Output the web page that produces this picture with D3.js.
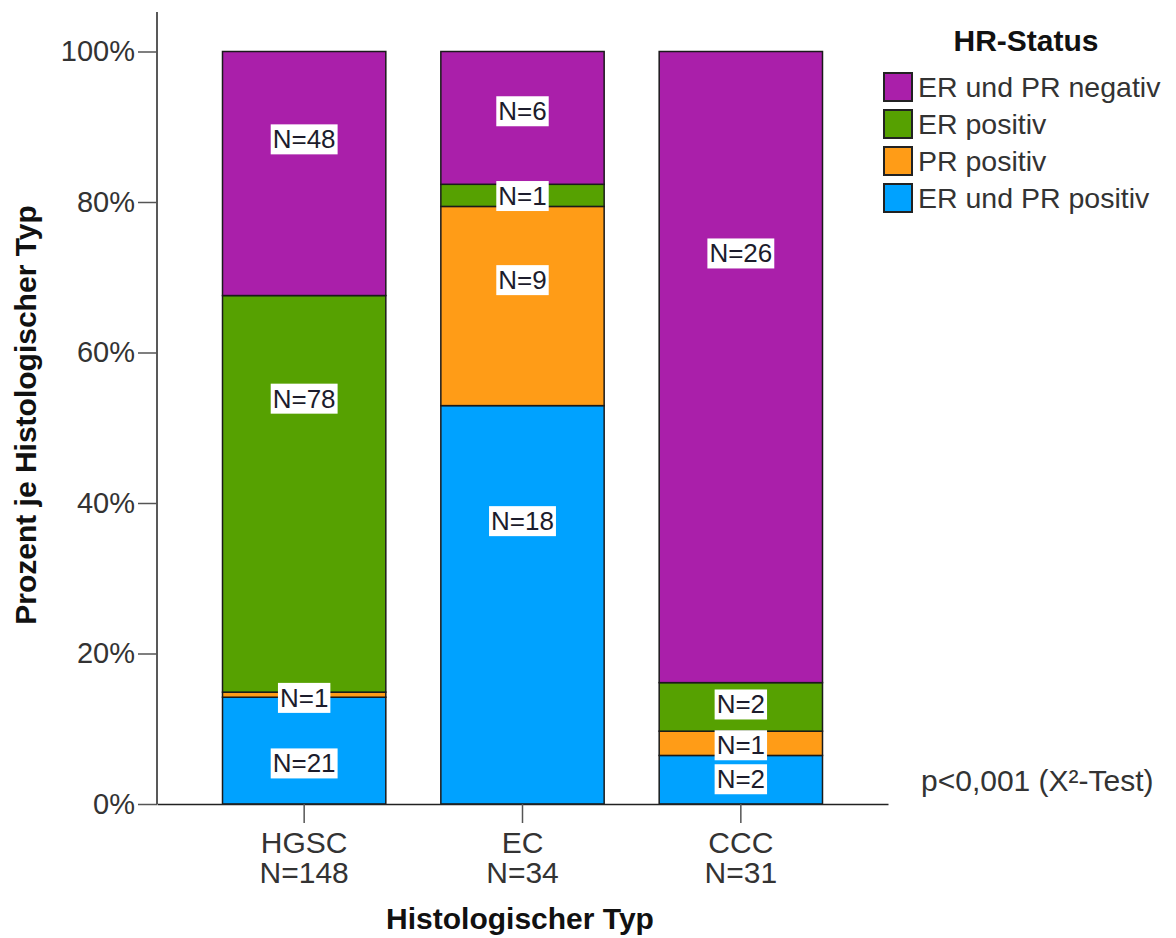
<!DOCTYPE html>
<html>
<head>
<meta charset="utf-8">
<script src="https://cdn.jsdelivr.net/npm/d3@7"></script>
<style>
  body { margin: 0; background: #fff; }
  svg text { font-family: "Liberation Sans", Arial, sans-serif; }
</style>
</head>
<body>
<div id="chart"></div>
<script>
// data (counts per histological type)
var categories = ["HGSC", "EC", "CCC"];
var seriesNames = ["ER und PR positiv", "PR positiv", "ER positiv", "ER und PR negativ"]; // stack order, bottom first
var erPrPositiv = [21, 18, 2];
var prPositiv   = [1, 9, 1];
var erPositiv   = [78, 1, 2];
var erPrNegativ = [48, 6, 26];
var yTicks = [0, 0.2, 0.4, 0.6, 0.8, 1.0];

// layout only: where the N label sits inside its segment (0 = bottom, 1 = top)
var labelFrac = [
  [0.38, -0.13, 0.74, 0.64],
  [0.71, 0.63, 0.47, 0.55],
  [0.51, 0.42, 0.55, 0.68]
];
var colors = ["#00a2ff", "#ff9c17", "#56a101", "#aa1faa"];

var counts = [erPrPositiv, prPositiv, erPositiv, erPrNegativ];
var totals = categories.map(function(c, i) { return d3.sum(counts, function(s) { return s[i]; }); });

var svg = d3.select("#chart").append("svg")
    .attr("width", 1176)
    .attr("height", 938);

var x = d3.scaleBand().domain(categories).range([157, 888]).paddingInner(0.252).paddingOuter(0.30);
var y = d3.scaleLinear().domain([0, 1]).range([804, 51.5]);

// stacked segments
var rows = categories.map(function(c, i) {
  var r = {cat: c};
  seriesNames.forEach(function(s, k) { r[s] = counts[k][i] / totals[i]; });
  return r;
});
var stack = d3.stack().keys(seriesNames)(rows);

var g = svg.append("g");
stack.forEach(function(layer, k) {
  g.selectAll(".seg" + k)
      .data(layer)
    .enter().append("rect")
      .attr("x", function(d) { return x(d.data.cat); })
      .attr("width", x.bandwidth())
      .attr("y", function(d) { return y(d[1]); })
      .attr("height", function(d) { return y(d[0]) - y(d[1]); })
      .attr("fill", colors[k])
      .attr("stroke", "#1a1a1a")
      .attr("stroke-width", 1.5);
});

// N labels with white boxes
var lab = svg.append("g");
stack.forEach(function(layer, k) {
  layer.forEach(function(d, i) {
    var f = labelFrac[i][k];
    var yy = y(d[0] + (d[1] - d[0]) * f);
    var cx = x(d.data.cat) + x.bandwidth() / 2;
    var gg = lab.append("g");
    var t = gg.append("text")
        .attr("x", cx).attr("y", yy)
        .attr("text-anchor", "middle")
        .attr("dominant-baseline", "central")
        .attr("font-size", 26)
        .attr("fill", "#1c1c2c")
        .text("N=" + counts[k][i]);
    var bb = t.node().getBBox();
    gg.insert("rect", "text")
        .attr("x", bb.x - 2).attr("y", yy - 15)
        .attr("width", bb.width + 4).attr("height", 30)
        .attr("fill", "#fff");
  });
});

// y axis
svg.append("line").attr("x1", 157).attr("x2", 157).attr("y1", 12).attr("y2", 804)
    .attr("stroke", "#222").attr("stroke-width", 1.5);
var ya = svg.append("g").attr("transform", "translate(157,0)")
    .call(d3.axisLeft(y).tickValues(yTicks).tickFormat(d3.format(".0%")).tickSize(19).tickPadding(3));
ya.select(".domain").remove();
ya.selectAll(".tick line").attr("stroke", "#555").attr("stroke-width", 1.5);
ya.selectAll(".tick text").attr("font-size", 29).attr("fill", "#333")
    .attr("font-family", "Liberation Sans, Arial, sans-serif");

// x axis
var xa = svg.append("g").attr("transform", "translate(0,804)")
    .call(d3.axisBottom(x).tickSize(19).tickSizeOuter(0).tickFormat(""));
xa.select(".domain").attr("stroke", "#222").attr("stroke-width", 1.5);
xa.selectAll(".tick line").attr("stroke", "#555").attr("stroke-width", 1.5);
categories.forEach(function(c, i) {
  var cx = x(c) + x.bandwidth() / 2;
  var t = svg.append("text")
      .attr("text-anchor", "middle")
      .attr("font-size", 30).attr("fill", "#333");
  t.append("tspan").attr("x", cx).attr("y", 853).text(c);
  t.append("tspan").attr("x", cx).attr("y", 883).text("N=" + totals[i]);
});

// axis titles
svg.append("text")
    .attr("x", 520).attr("y", 929)
    .attr("text-anchor", "middle")
    .attr("font-size", 30).attr("font-weight", "bold").attr("fill", "#111")
    .text("Histologischer Typ");
svg.append("text")
    .attr("transform", "translate(36,415) rotate(-90)")
    .attr("text-anchor", "middle")
    .attr("font-size", 30).attr("font-weight", "bold").attr("fill", "#111")
    .text("Prozent je Histologischer Typ");

// legend
var leg = svg.append("g");
leg.append("text").attr("x", 1026).attr("y", 51)
    .attr("text-anchor", "middle")
    .attr("font-size", 30).attr("font-weight", "bold").attr("fill", "#111")
    .text("HR-Status");
seriesNames.slice().reverse().forEach(function(s, j) {
  var k = seriesNames.length - 1 - j;
  var yy = 87 + j * 37;
  leg.append("rect").attr("x", 884).attr("y", yy - 14).attr("width", 28).attr("height", 28)
      .attr("fill", colors[k]).attr("stroke", "#222").attr("stroke-width", 2);
  leg.append("text").attr("x", 918).attr("y", yy)
      .attr("dominant-baseline", "central")
      .attr("font-size", 28.5).attr("fill", "#333")
      .text(s);
});

svg.append("text").attr("x", 921).attr("y", 780)
    .attr("dominant-baseline", "central")
    .attr("font-size", 30).attr("fill", "#333")
    .text("p<0,001 (X²-Test)");
</script>
</body>
</html>
